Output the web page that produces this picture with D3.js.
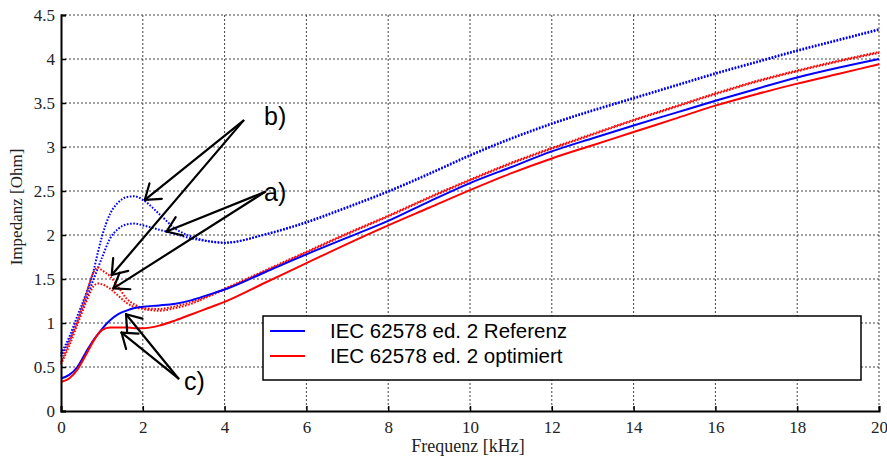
<!DOCTYPE html>
<html>
<head>
<meta charset="utf-8">
<script src="https://cdn.jsdelivr.net/npm/d3@7"></script>
<style>
  html, body { margin: 0; padding: 0; background: #fff; }
  svg { display: block; }
</style>
</head>
<body>
<svg id="chart" width="887" height="459"></svg>
<script>
// Frequency grid (kHz) shared by all curves
const freq = [0, 0.2, 0.4, 0.6, 0.8, 0.9, 1.0, 1.2, 1.4, 1.6, 1.8, 2.0, 2.4, 2.8, 3.2, 3.6, 4,
              5, 6, 7, 8, 9, 10, 11, 12, 13, 14, 15, 16, 17, 18, 19, 20];

// Impedance (Ohm) – reference setup (blue)
const refSolid   = [0.37, 0.41, 0.50, 0.66, 0.81, 0.87, 0.93, 1.03, 1.10, 1.14, 1.17, 1.185, 1.20, 1.22, 1.26, 1.32, 1.38,
                    1.58, 1.78, 1.97, 2.16, 2.38, 2.59, 2.77, 2.95, 3.10, 3.245, 3.385, 3.525, 3.66, 3.79, 3.90, 4.00];
const refDotB    = [0.65, 0.84, 1.08, 1.32, 1.60, 1.80, 1.98, 2.24, 2.37, 2.43, 2.44, 2.40, 2.24, 2.07, 1.98, 1.93, 1.91,
                    2.01, 2.15, 2.32, 2.50, 2.70, 2.91, 3.10, 3.27, 3.42, 3.56, 3.70, 3.84, 3.97, 4.10, 4.22, 4.34];
const refDotA    = [0.62, 0.80, 1.02, 1.25, 1.50, 1.62, 1.74, 1.96, 2.07, 2.12, 2.13, 2.11, 2.06, 2.01, 1.96, 1.93, 1.915,
                    2.005, 2.14, 2.31, 2.49, 2.69, 2.90, 3.09, 3.26, 3.41, 3.55, 3.69, 3.83, 3.96, 4.09, 4.21, 4.33];

// Impedance (Ohm) – optimised setup (red)
const optSolid   = [0.33, 0.37, 0.47, 0.63, 0.80, 0.87, 0.92, 0.95, 0.95, 0.95, 0.94, 0.94, 0.97, 1.03, 1.10, 1.17, 1.24,
                    1.46, 1.68, 1.90, 2.11, 2.31, 2.51, 2.70, 2.87, 3.02, 3.17, 3.32, 3.47, 3.60, 3.72, 3.83, 3.94];
const optDotB    = [0.55, 0.78, 1.02, 1.30, 1.58, 1.63, 1.60, 1.53, 1.41, 1.28, 1.21, 1.17, 1.16, 1.19, 1.24, 1.31, 1.39,
                    1.60, 1.81, 2.02, 2.22, 2.43, 2.63, 2.82, 2.99, 3.15, 3.31, 3.46, 3.61, 3.75, 3.87, 3.98, 4.08];
const optDotA    = [0.53, 0.74, 0.98, 1.22, 1.42, 1.45, 1.44, 1.39, 1.31, 1.23, 1.18, 1.16, 1.14, 1.17, 1.22, 1.30, 1.38,
                    1.59, 1.80, 2.01, 2.21, 2.42, 2.62, 2.81, 2.98, 3.14, 3.30, 3.45, 3.60, 3.74, 3.86, 3.97, 4.07];

// Axis ticks
const xTicks = [0, 2, 4, 6, 8, 10, 12, 14, 16, 18, 20];
const yTicks = [0, 0.5, 1, 1.5, 2, 2.5, 3, 3.5, 4, 4.5];

// Legend entries
const legendLabels = ["IEC 62578 ed. 2 Referenz", "IEC 62578 ed. 2 optimiert"];
const legendColors = ["#0000ff", "#ff0000"];

// Callouts: label, tail point and arrow targets (kHz, Ohm)
const calloutLabels = ["b)", "a)", "c)"];
const calloutTails  = [[4.46, 3.30], [4.99, 2.49], [2.87, 0.37]];
const calloutHeads  = [
  [[2.05, 2.40], [1.24, 1.545]],
  [[2.58, 2.04], [1.28, 1.394]],
  [[1.59, 1.10], [1.48, 0.89]]
];

const svg = d3.select("#chart");
const plot = { left: 61, right: 879, top: 15, bottom: 411 };

const x = d3.scaleLinear().domain([0, 20]).range([plot.left, plot.right]);
const y = d3.scaleLinear().domain([0, 4.5]).range([plot.bottom, plot.top]);

const serif = "'Liberation Serif', 'Times New Roman', serif";
const sans = "'Liberation Sans', Arial, sans-serif";

// Dotted grid
const grid = svg.append("g").attr("stroke", "#444").attr("stroke-width", 1)
  .attr("stroke-dasharray", "2,2").attr("fill", "none");
grid.selectAll(".vg").data(xTicks.filter(d => d > 0)).join("line")
  .attr("x1", d => x(d)).attr("x2", d => x(d))
  .attr("y1", plot.top).attr("y2", plot.bottom);
grid.selectAll(".hg").data(yTicks.filter(d => d > 0)).join("line")
  .attr("x1", plot.left).attr("x2", plot.right)
  .attr("y1", d => y(d)).attr("y2", d => y(d));

// Curves
const line = d3.line()
  .x((d, i) => x(freq[i]))
  .y(d => y(d))
  .curve(d3.curveMonotoneX);

const curves = [
  { v: refDotB, c: "#0000ff", dot: true },
  { v: refDotA, c: "#0000ff", dot: true },
  { v: optDotB, c: "#ff0000", dot: true },
  { v: optDotA, c: "#ff0000", dot: true },
  { v: refSolid, c: "#0000ff", dot: false },
  { v: optSolid, c: "#ff0000", dot: false }
];
svg.append("g").selectAll("path").data(curves).join("path")
  .attr("d", d => line(d.v))
  .attr("fill", "none")
  .attr("stroke", d => d.c)
  .attr("stroke-width", 2)
  .attr("stroke-dasharray", d => d.dot ? "1.6,1.6" : null);

// Axes
const xAxis = svg.append("g").attr("transform", `translate(0,${plot.bottom})`)
  .call(d3.axisBottom(x).tickValues(xTicks).tickSize(-5).tickPadding(10).tickFormat(d3.format("d")));
const yAxis = svg.append("g").attr("transform", `translate(${plot.left},0)`)
  .call(d3.axisLeft(y).tickValues(yTicks).tickSize(-5).tickPadding(6).tickFormat(d => String(d)));
[xAxis, yAxis].forEach(a => {
  a.select(".domain").attr("stroke", "#000").attr("stroke-width", 2);
  a.selectAll(".tick line").attr("stroke", "#000").attr("stroke-width", 1.5);
  a.selectAll(".tick text").attr("font-family", serif).attr("font-size", 17).attr("fill", "#222");
});

// Axis titles
svg.append("text").attr("x", 468).attr("y", 452).attr("text-anchor", "middle")
  .attr("font-family", serif).attr("font-size", 18).attr("fill", "#222").text("Frequenz [kHz]");
svg.append("text").attr("transform", "translate(22,207) rotate(-90)").attr("text-anchor", "middle")
  .attr("font-family", serif).attr("font-size", 17).attr("fill", "#222").text("Impedanz [Ohm]");

// Callout arrows with open heads
const ann = svg.append("g").attr("stroke", "#000").attr("stroke-width", 2.2)
  .attr("fill", "none").attr("stroke-linecap", "round");
calloutTails.forEach((t, k) => {
  const tx = x(t[0]), ty = y(t[1]);
  calloutHeads[k].forEach(h => {
    const hx = x(h[0]), hy = y(h[1]);
    ann.append("line").attr("x1", tx).attr("y1", ty).attr("x2", hx).attr("y2", hy);
    const ang = Math.atan2(ty - hy, tx - hx);
    const len = 17, spread = 0.62;
    [-spread, spread].forEach(s => {
      ann.append("line").attr("x1", hx).attr("y1", hy)
        .attr("x2", hx + len * Math.cos(ang + s)).attr("y2", hy + len * Math.sin(ang + s));
    });
  });
});
const labelPos = [[264, 125], [264, 201], [184, 390]];
svg.append("g").selectAll("text").data(calloutLabels).join("text")
  .attr("x", (d, i) => labelPos[i][0]).attr("y", (d, i) => labelPos[i][1])
  .attr("font-family", sans).attr("font-size", 25).attr("fill", "#000")
  .text(d => d);

// Legend
const lg = svg.append("g");
lg.append("rect").attr("x", 263).attr("y", 316).attr("width", 598).attr("height", 64)
  .attr("fill", "#fff").attr("stroke", "#000").attr("stroke-width", 1.5);
legendLabels.forEach((lab, i) => {
  const ly = 331 + i * 25;
  lg.append("line").attr("x1", 270).attr("x2", 305).attr("y1", ly).attr("y2", ly)
    .attr("stroke", legendColors[i]).attr("stroke-width", 2);
  lg.append("text").attr("x", 330).attr("y", ly).attr("dy", "0.35em")
    .attr("font-family", sans).attr("font-size", 20.5).attr("fill", "#000").text(lab);
});
</script>
</body>
</html>
